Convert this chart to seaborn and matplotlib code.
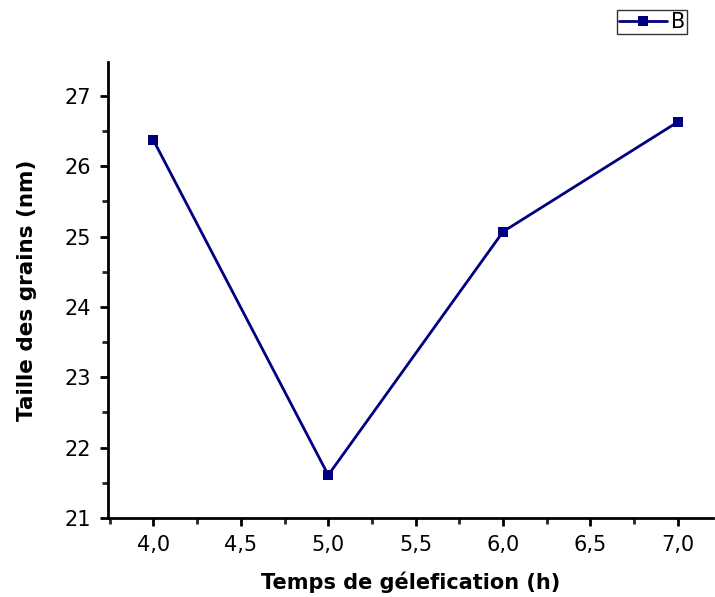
import matplotlib
matplotlib.use("Agg")
import matplotlib.pyplot as plt
import seaborn as sns
import pandas as pd
from matplotlib.ticker import MultipleLocator, FuncFormatter

temps = [4.0, 5.0, 6.0, 7.0]
taille = [26.37, 21.61, 25.07, 26.63]
series_name = "B"
xlabel = "Temps de gélefication (h)"
ylabel = "Taille des grains (nm)"

sns.set_theme(style="ticks")
plt.rcParams['font.family'] = ['DejaVu Sans']
plt.rcParams['text.color'] = 'black'
plt.rcParams['axes.labelcolor'] = 'black'

df = pd.DataFrame({"x": temps, "y": taille, "s": series_name})

fig = plt.figure(figsize=(7.15, 5.97), dpi=100)
ax = fig.add_axes([0.151, 0.1323, 0.846, 0.7637])
sns.lineplot(data=df, x="x", y="y", hue="s", palette=["#000080"], marker="s",
             markersize=7.5, markeredgewidth=0, linewidth=2.0, ax=ax, legend=True)

ax.set_xlim(3.74, 7.2)
ax.set_ylim(21, 27.48)
ax.xaxis.set_major_locator(MultipleLocator(0.5))
ax.xaxis.set_minor_locator(MultipleLocator(0.25))
ax.yaxis.set_major_locator(MultipleLocator(1))
ax.yaxis.set_minor_locator(MultipleLocator(0.5))
ax.xaxis.set_major_formatter(FuncFormatter(lambda v, p: f"{v:.1f}".replace(".", ",")))
ax.yaxis.set_major_formatter(FuncFormatter(lambda v, p: f"{v:.0f}"))
for s in ["top", "right"]:
    ax.spines[s].set_visible(False)
for s in ["left", "bottom"]:
    ax.spines[s].set_linewidth(2.0)
    ax.spines[s].set_color("black")
ax.tick_params(which="major", direction="out", length=6, width=2.0, labelsize=15, colors="black", pad=6)
ax.tick_params(which="minor", direction="out", length=4, width=2.0)
ax.set_xlabel(xlabel, fontsize=15, fontweight="bold", labelpad=12, color="black")
ax.set_ylabel(ylabel, fontsize=15.5, fontweight="bold", labelpad=20, color="black")

handles, labels = ax.get_legend_handles_labels()
ax.get_legend().remove()
leg = fig.legend(handles, labels, loc="upper right", bbox_to_anchor=(0.961, 0.983),
                 frameon=True, fancybox=False, fontsize=15, handlelength=2.3,
                 handletextpad=0.2, borderpad=0.1, borderaxespad=0, edgecolor="black")
leg.get_frame().set_linewidth(1.0)
for t in leg.get_texts():
    t.set_color("black")

fig.savefig("out.png", dpi=100)
